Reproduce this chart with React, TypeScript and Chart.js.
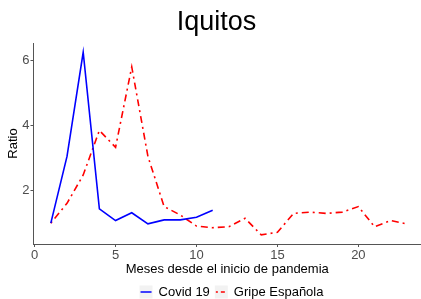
import React, { useEffect, useRef } from "react";
import { Chart, registerables } from "chart.js";

Chart.register(...registerables);

const FONT = "'Liberation Sans', Arial, sans-serif";

const covidMonths = [1, 2, 3, 4, 5, 6, 7, 8, 9, 10, 11];
const covidValues = [1.0, 3.05, 6.25, 1.44, 1.08, 1.32, 0.98, 1.1, 1.1, 1.18, 1.4];

const gripeMonths = [1, 2, 3, 4, 5, 6, 7, 8, 9, 10, 11, 12, 13, 14, 15, 16, 17, 18, 19, 20, 21, 22, 23];
const gripeValues = [
  1.0, 1.61, 2.48, 3.85, 3.33, 5.8, 3.05, 1.51, 1.25, 0.91, 0.86, 0.89, 1.15,
  0.64, 0.72, 1.3, 1.34, 1.3, 1.34, 1.51, 0.89, 1.08, 0.975,
];

const xTicks = [0, 5, 10, 15, 20];
const yTicks = [2, 4, 6];

const seriesNames = ["Covid 19", "Gripe Española"];
const chartTitle = "Iquitos";
const xTitle = "Meses desde el inicio de pandemia";
const yTitle = "Ratio";

const overlayPlugin = {
  id: "overlay",
  afterDraw(chart: any) {
    const ctx = chart.ctx as CanvasRenderingContext2D;
    ctx.save();
    // title
    ctx.fillStyle = "#000";
    ctx.font = `27px ${FONT}`;
    ctx.textAlign = "center";
    ctx.textBaseline = "alphabetic";
    ctx.fillText(chartTitle, 216.5, 29.5);

    // legend
    ctx.font = `13px ${FONT}`;
    ctx.textBaseline = "middle";
    ctx.textAlign = "left";
    const keyW = 13;
    const keyH = 13;
    const gapKeyText = 6;
    const gapItems = 5;
    const items = chart.data.datasets.map((ds: any) => ({
      label: ds.label,
      color: ds.borderColor,
      dash: ds.borderDash || [],
      w: ctx.measureText(ds.label).width,
    }));
    let total = 0;
    items.forEach((it: any, i: number) => {
      total += keyW + gapKeyText + it.w + (i < items.length - 1 ? gapItems : 0);
    });
    let x = 231.5 - total / 2;
    const cy = 292;
    items.forEach((it: any) => {
      ctx.fillStyle = "#f2f2f2";
      ctx.fillRect(x, cy - keyH / 2, keyW, keyH);
      ctx.strokeStyle = it.color;
      ctx.lineWidth = 1.5;
      ctx.setLineDash(it.dash.length ? [2, 3, 4, 3] : []);
      ctx.beginPath();
      ctx.moveTo(x + 1, cy);
      ctx.lineTo(x + keyW - 1, cy);
      ctx.stroke();
      ctx.setLineDash([]);
      ctx.fillStyle = "#000";
      ctx.fillText(it.label, x + keyW + gapKeyText, cy);
      x += keyW + gapKeyText + it.w + gapItems;
    });
    ctx.restore();
  },
};

export default function App() {
  const ref = useRef<HTMLCanvasElement | null>(null);

  useEffect(() => {
    document.body.style.margin = "0";
    const canvas = ref.current;
    if (!canvas) return;
    const chart = new Chart(canvas, {
      type: "line",
      data: {
        datasets: [
          {
            label: seriesNames[0],
            data: covidMonths.map((m, i) => ({ x: m, y: covidValues[i] })),
            borderColor: "#0000ff",
            backgroundColor: "#0000ff",
            borderWidth: 1.6,
            pointRadius: 0,
            tension: 0,
            fill: false,
          },
          {
            label: seriesNames[1],
            data: gripeMonths.map((m, i) => ({ x: m, y: gripeValues[i] })),
            borderColor: "#ff0000",
            backgroundColor: "#ff0000",
            borderWidth: 1.6,
            borderDash: [2, 4, 7, 4],
            pointRadius: 0,
            tension: 0,
            fill: false,
          },
        ],
      },
      options: {
        animation: false,
        responsive: false,
        devicePixelRatio: 1,
        layout: { padding: { top: 43, left: 0, right: 0, bottom: 0 } },
        plugins: {
          legend: { display: false },
          title: { display: false },
          tooltip: { enabled: false },
        },
        scales: {
          x: {
            type: "linear",
            min: -0.07,
            max: 23.87,
            afterBuildTicks: (s: any) => {
              s.ticks = xTicks.map((v) => ({ value: v }));
            },
            afterFit: (s: any) => {
              s.height = 55;
            },
            grid: { drawOnChartArea: false, drawTicks: true, tickLength: 3, color: "#555" },
            border: { display: true, color: "#555", width: 1 },
            ticks: {
              font: { family: FONT, size: 13 },
              color: "#4d4d4d",
              padding: 1,
              maxRotation: 0,
              autoSkip: false,
            },
            title: {
              display: true,
              text: xTitle,
              font: { family: FONT, size: 13 },
              color: "#000",
              padding: { top: 0, bottom: 22 },
            },
          },
          y: {
            type: "linear",
            min: 0.36,
            max: 6.535,
            afterBuildTicks: (s: any) => {
              s.ticks = yTicks.map((v) => ({ value: v }));
            },
            afterFit: (s: any) => {
              s.width = 33.5;
            },
            grid: { drawOnChartArea: false, drawTicks: true, tickLength: 3, color: "#555" },
            border: { display: true, color: "#555", width: 1 },
            ticks: {
              font: { family: FONT, size: 13 },
              color: "#4d4d4d",
              padding: 1,
              autoSkip: false,
            },
            title: {
              display: true,
              text: yTitle,
              font: { family: FONT, size: 13 },
              color: "#000",
              padding: { top: 6, bottom: 0 },
            },
          },
        },
      },
      plugins: [overlayPlugin],
    });
    return () => chart.destroy();
  }, []);

  return (
    <div style={{ width: 421, height: 299 }}>
      <canvas ref={ref} width={421} height={299} style={{ display: "block" }} />
    </div>
  );
}
